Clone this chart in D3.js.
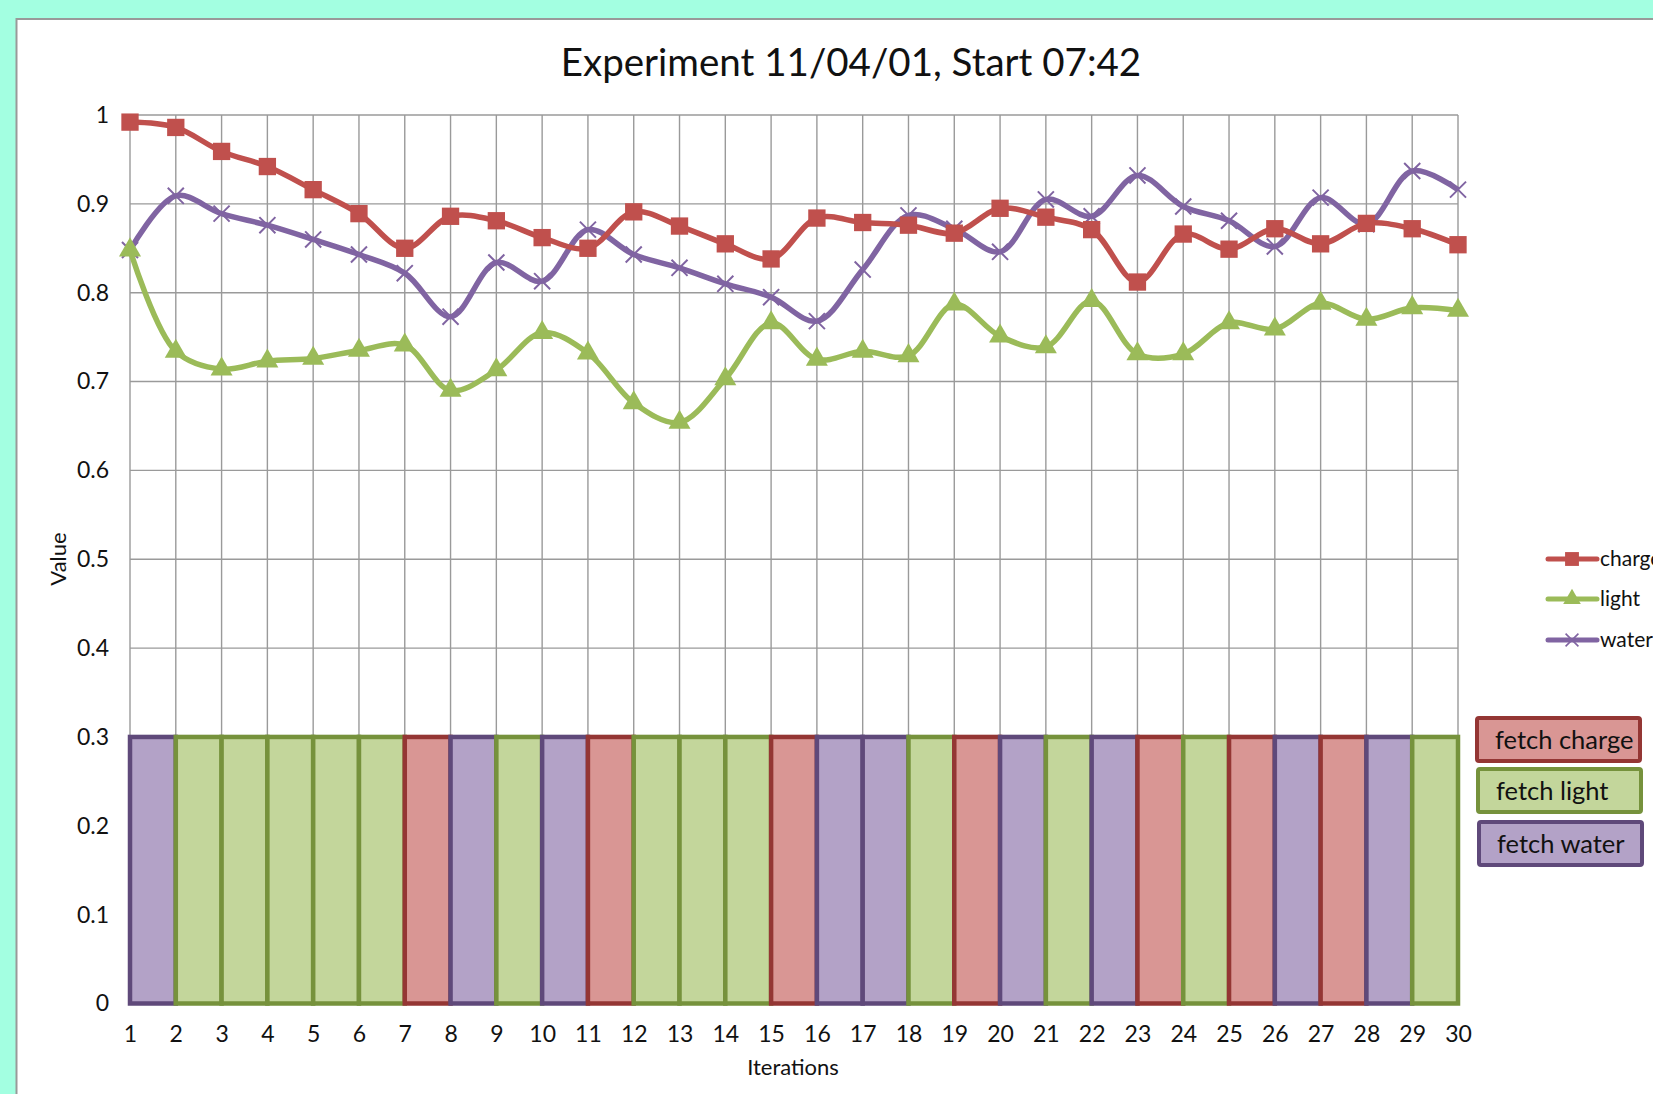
<!DOCTYPE html>
<html>
<head>
<meta charset="utf-8">
<script src="https://cdn.jsdelivr.net/npm/d3@7"></script>
<style>
  body { margin: 0; background: #a3ffe1; overflow: hidden; }
  text { font-family: Lato, "Open Sans", sans-serif; fill: #111; }
</style>
</head>
<body>
<div id="chart"></div>
<script>
// values
var iterations = [1,2,3,4,5,6,7,8,9,10,11,12,13,14,15,16,17,18,19,20,21,22,23,24,25,26,27,28,29,30];
var charge = [0.992,0.986,0.959,0.942,0.916,0.889,0.850,0.886,0.881,0.862,0.850,0.891,0.875,0.855,0.838,
              0.884,0.879,0.876,0.867,0.895,0.885,0.871,0.812,0.866,0.849,0.872,0.855,0.878,0.872,0.854];
var light = [0.848,0.734,0.714,0.723,0.726,0.735,0.741,0.690,0.713,0.755,0.732,0.676,0.654,0.703,0.766,
             0.725,0.734,0.729,0.787,0.751,0.739,0.791,0.731,0.731,0.766,0.759,0.788,0.770,0.783,0.780];
var water = [0.848,0.909,0.889,0.876,0.860,0.843,0.822,0.773,0.834,0.813,0.871,0.843,0.828,0.810,0.795,
             0.768,0.826,0.887,0.872,0.846,0.905,0.886,0.932,0.897,0.881,0.852,0.907,0.877,0.937,0.916];
// which action was taken between iteration i and i+1
var fetched = ["water","light","light","light","light","light","charge","water","light","water",
               "charge","light","light","light","charge","water","water","light","charge","water",
               "light","water","charge","light","charge","water","charge","water","light"];
var fetchLevel = 0.3;
var yTicks = [0,0.1,0.2,0.3,0.4,0.5,0.6,0.7,0.8,0.9,1];
var seriesNames = ["charge","light","water"];
var fetchLabels = ["fetch charge","fetch light","fetch water"];

var lineColor = { charge: "#c0504d", light: "#9bbb59", water: "#8064a2" };
var barFill = { charge: "#d99694", light: "#c3d69b", water: "#b3a2c7" };
var barStroke = { charge: "#943634", light: "#76923c", water: "#5f497a" };

var W = 1653, H = 1094;
var svg = d3.select("#chart").append("svg")
    .attr("width", W)
    .attr("height", H);

// white panel
svg.append("rect")
    .attr("x", 16.5).attr("y", 19)
    .attr("width", 1700).attr("height", 1200)
    .attr("fill", "#fff")
    .attr("stroke", "#999").attr("stroke-width", 2);

var x = d3.scaleLinear().domain([1, 30]).range([130, 1458]);
var y = d3.scaleLinear().domain([0, 1]).range([1003.5, 115]);

// grid
var grid = svg.append("g").attr("stroke", "#9a9a9a").attr("stroke-width", 1.4);
grid.selectAll("line.v").data(iterations).enter().append("line")
    .attr("x1", d => x(d)).attr("x2", d => x(d))
    .attr("y1", y(0)).attr("y2", y(1));
grid.selectAll("line.h").data(yTicks).enter().append("line")
    .attr("x1", x(1)).attr("x2", x(30))
    .attr("y1", d => y(d)).attr("y2", d => y(d));

// fetch bars
svg.append("g").selectAll("rect")
    .data(fetched)
    .enter()
    .append("rect")
      .attr("x", (d, i) => x(iterations[i]))
      .attr("width", (d, i) => x(iterations[i + 1]) - x(iterations[i]))
      .attr("y", y(fetchLevel))
      .attr("height", y(0) - y(fetchLevel))
      .attr("fill", d => barFill[d])
      .attr("stroke", d => barStroke[d])
      .attr("stroke-width", 4.5);

// axes (labels only)
var yAxis = svg.append("g")
    .attr("transform", "translate(" + x(1) + ",0)")
    .call(d3.axisLeft(y).tickValues(yTicks).tickSize(0).tickPadding(21).tickFormat(d3.format("~g")));
yAxis.select(".domain").remove();
yAxis.selectAll("text").style("font-size", "23px").style("font-family", "Lato, sans-serif").attr("fill", "#111");

var xAxis = svg.append("g")
    .attr("transform", "translate(0," + y(0) + ")")
    .call(d3.axisBottom(x).tickValues(iterations).tickSize(0).tickPadding(22).tickFormat(d3.format("d")));
xAxis.select(".domain").remove();
xAxis.selectAll("text").style("font-size", "23px").style("font-family", "Lato, sans-serif").attr("fill", "#111");

// lines
var series = { charge: charge, light: light, water: water };
var line = d3.line()
    .x((d, i) => x(iterations[i]))
    .y(d => y(d))
    .curve(d3.curveCatmullRom.alpha(0.5));

var sym = {
  charge: d3.symbol().type(d3.symbolSquare).size(300),
  light: d3.symbol().type(d3.symbolTriangle).size(210),
  water: d3.symbol().type(d3.symbolX).size(170)
};

function drawMarker(g, name) {
  if (name === "water") {
    g.append("path").attr("d", sym.water())
      .attr("fill", "none").attr("stroke", lineColor.water).attr("stroke-width", 2);
  } else {
    g.append("path").attr("d", sym[name]()).attr("fill", lineColor[name]);
  }
}

seriesNames.slice().reverse().forEach(function (name) {
  svg.append("path")
      .datum(series[name])
      .attr("d", line)
      .attr("fill", "none")
      .attr("stroke", lineColor[name])
      .attr("stroke-width", 5.5)
      .attr("stroke-linejoin", "round");
  series[name].forEach(function (v, i) {
    var g = svg.append("g").attr("transform", "translate(" + x(iterations[i]) + "," + y(v) + ")");
    drawMarker(g, name);
  });
});

// title and axis titles
svg.append("text")
    .attr("x", 851).attr("y", 76)
    .attr("text-anchor", "middle")
    .style("font-size", "38.5px")
    .text("Experiment 11/04/01, Start 07:42");

svg.append("text")
    .attr("x", 793).attr("y", 1075)
    .attr("text-anchor", "middle")
    .style("font-size", "22px")
    .text("Iterations");

svg.append("text")
    .attr("transform", "translate(66,559) rotate(-90)")
    .attr("text-anchor", "middle")
    .style("font-size", "22px")
    .text("Value");

// line legend
var legY = [559, 599, 640];
seriesNames.forEach(function (name, i) {
  var g = svg.append("g").attr("transform", "translate(0," + legY[i] + ")");
  g.append("line").attr("x1", 1548).attr("x2", 1597)
    .attr("stroke", lineColor[name]).attr("stroke-width", 5).attr("stroke-linecap", "round");
  var m = g.append("g").attr("transform", "translate(1572,0) scale(0.8)");
  drawMarker(m, name);
  g.append("text").attr("x", 1600).attr("y", 7).style("font-size", "21px").text(name);
});

// fetch legend
var boxX = [1475, 1476, 1477], boxY = [716, 767, 820];
fetchLabels.forEach(function (lab, i) {
  var key = seriesNames[i];
  svg.append("rect")
    .attr("x", boxX[i] + 2).attr("y", boxY[i] + 2)
    .attr("width", 163).attr("height", 43).attr("rx", 2)
    .attr("fill", barFill[key]).attr("stroke", barStroke[key]).attr("stroke-width", 4);
  svg.append("text")
    .attr("x", boxX[i] + 20).attr("y", boxY[i] + 33)
    .style("font-size", "25.5px")
    .text(lab);
});
</script>
</body>
</html>
